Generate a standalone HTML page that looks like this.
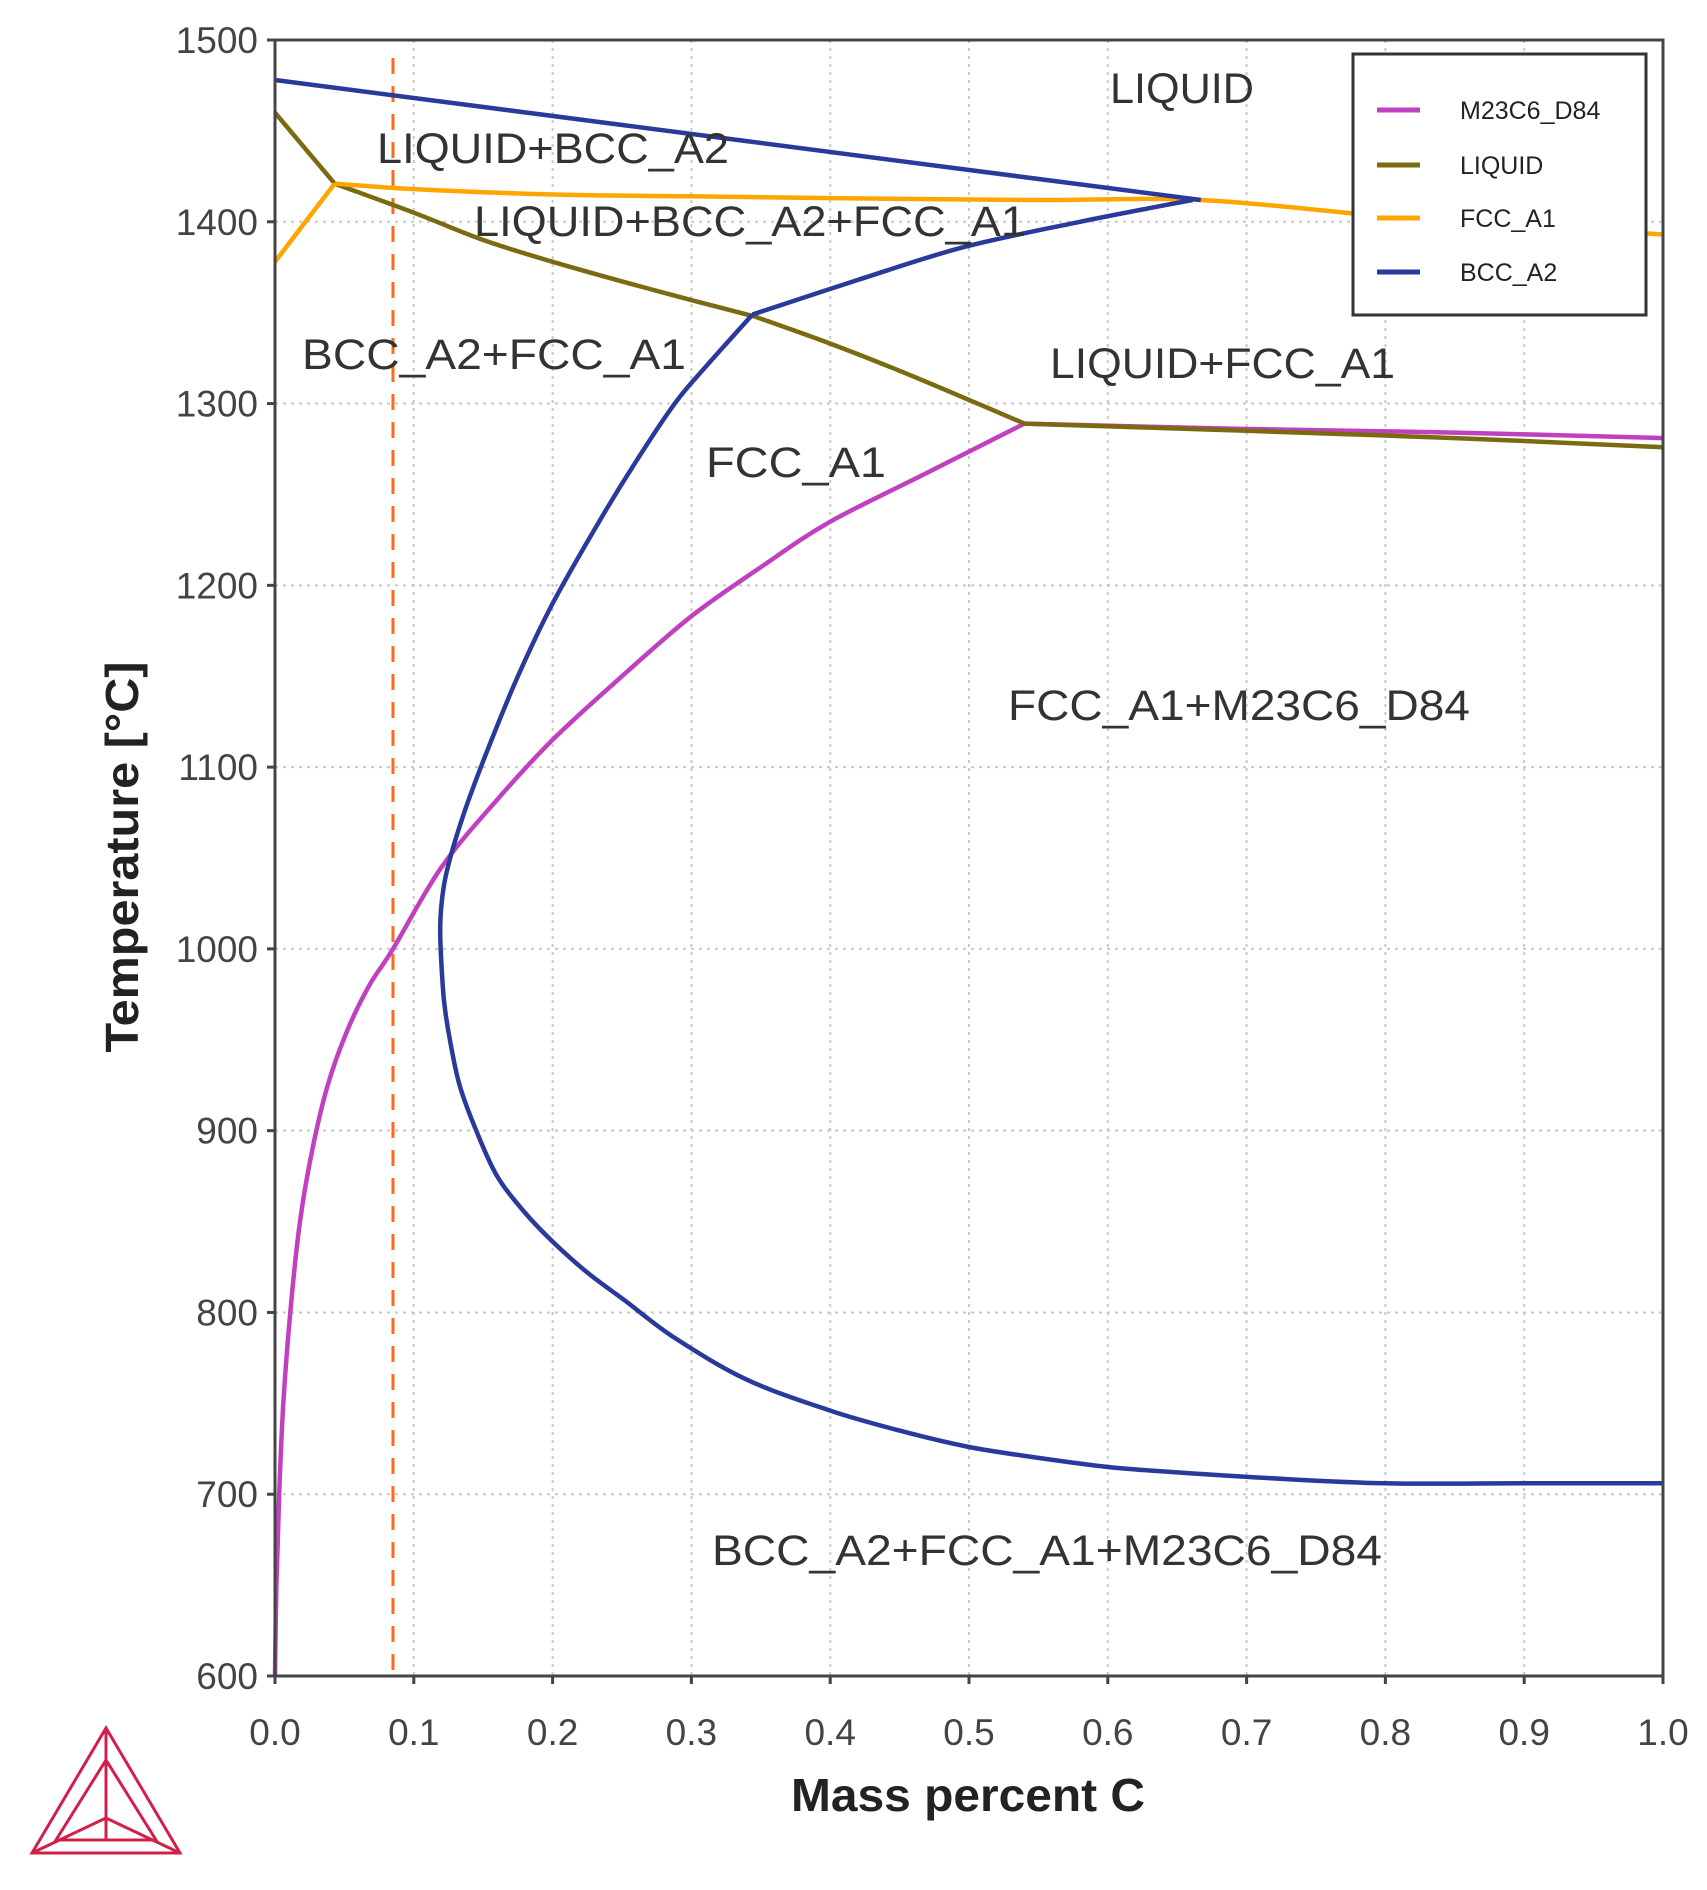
<!DOCTYPE html>
<html><head><meta charset="utf-8"><style>
html,body{margin:0;padding:0;background:#fff;}
svg{display:block;font-family:"Liberation Sans",Arial,sans-serif;}
</style></head><body>
<svg id="chart" width="1707" height="1890" viewBox="0 0 1707 1890" xmlns="http://www.w3.org/2000/svg">
<g id="grid"></g>
<g id="series"></g>
<g id="axes"></g>
<g font-size="43" fill="#333">
<text x="1110" y="103" textLength="144" lengthAdjust="spacingAndGlyphs">LIQUID</text>
<text x="377" y="163" textLength="352" lengthAdjust="spacingAndGlyphs">LIQUID+BCC_A2</text>
<text x="474" y="236" textLength="552" lengthAdjust="spacingAndGlyphs">LIQUID+BCC_A2+FCC_A1</text>
<text x="302" y="369" textLength="384" lengthAdjust="spacingAndGlyphs">BCC_A2+FCC_A1</text>
<text x="1050" y="378" textLength="345" lengthAdjust="spacingAndGlyphs">LIQUID+FCC_A1</text>
<text x="706" y="477" textLength="180" lengthAdjust="spacingAndGlyphs">FCC_A1</text>
<text x="1008" y="720" textLength="462" lengthAdjust="spacingAndGlyphs">FCC_A1+M23C6_D84</text>
<text x="712" y="1565" textLength="670" lengthAdjust="spacingAndGlyphs">BCC_A2+FCC_A1+M23C6_D84</text>
</g>
<g>
<rect x="1353" y="54" width="293" height="261" fill="#fff" stroke="#333" stroke-width="3"/>
<g font-size="25" fill="#222">
<line x1="1377" y1="110" x2="1420" y2="110" stroke="#c040c0" stroke-width="5"/>
<text x="1460" y="119">M23C6_D84</text>
<line x1="1377" y1="165" x2="1420" y2="165" stroke="#7a6a10" stroke-width="5"/>
<text x="1460" y="174">LIQUID</text>
<line x1="1377" y1="218" x2="1420" y2="218" stroke="#ffa500" stroke-width="5"/>
<text x="1460" y="227">FCC_A1</text>
<line x1="1377" y1="272" x2="1420" y2="272" stroke="#2a3a9a" stroke-width="5"/>
<text x="1460" y="281">BCC_A2</text>
</g></g>
<text x="968" y="1811" text-anchor="middle" font-size="46" font-weight="bold" fill="#222" textLength="354" lengthAdjust="spacingAndGlyphs">Mass percent C</text>
<text transform="translate(138,857) rotate(-90)" text-anchor="middle" font-size="46" font-weight="bold" fill="#222" textLength="391" lengthAdjust="spacingAndGlyphs">Temperature [°C]</text>
<g fill="none" stroke="#d0204a" stroke-width="3">
<polygon points="106,1728 32,1853 180,1853"/>
<polygon points="106,1760 56,1840 156,1840"/>
<line x1="106" y1="1728" x2="106" y2="1818"/>
<line x1="32" y1="1853" x2="106" y2="1818"/>
<line x1="180" y1="1853" x2="106" y2="1818"/>
<line x1="106" y1="1760" x2="106" y2="1840"/>
</g>
</svg>
<script>
const xTicks=[0,0.1,0.2,0.3,0.4,0.5,0.6,0.7,0.8,0.9,1.0];
const xTickLabels=["0.0","0.1","0.2","0.3","0.4","0.5","0.6","0.7","0.8","0.9","1.0"];
const yTicks=[600,700,800,900,1000,1100,1200,1300,1400,1500];
const yTickLabels=["600","700","800","900","1000","1100","1200","1300","1400","1500"];
const bccUpperX=[0,0.667];
const bccUpperT=[1478,1412];
const bccLowerX=[0.344,0.42,0.496,0.58,0.661];
const bccLowerT=[1349,1368,1386,1400,1412];
const bccLoopX=[0.344,0.31,0.288,0.26,0.235,0.2,0.175,0.155,0.14,0.13,0.123,0.12,0.119,0.12,0.122,0.126,0.133,0.145,0.16,0.18,0.2,0.225,0.253,0.288,0.34,0.4,0.45,0.5,0.55,0.6,0.65,0.713,0.8,0.9,1.0];
const bccLoopT=[1349,1320,1300,1268,1237,1190,1150,1113,1083,1060,1040,1025,1010,990,970,950,925,900,875,855,839,822,806,786,763,746,735,726,720,715,712,709,706,706,706];
const fccX1=[0,0.043];
const fccT1=[1378,1421];
const fccX2=[0.043,0.1,0.2,0.3,0.4,0.55,0.667,0.8,0.9,1.0];
const fccT2=[1421,1418,1415,1414,1413,1412,1412,1403,1398,1393];
const liqX1=[0,0.043];
const liqT1=[1460,1421];
const liqX2=[0.043,0.1,0.15,0.2,0.27,0.345];
const liqT2=[1421,1405,1390,1378,1363,1348];
const liqX3=[0.345,0.4,0.45,0.5,0.54];
const liqT3=[1348,1333,1318,1302,1289];
const liqX4=[0.54,0.7,0.85,1.0];
const liqT4=[1289,1285,1281,1276];
const m23X=[0,0.001,0.003,0.006,0.011,0.018,0.027,0.038,0.052,0.068,0.085,0.12,0.16,0.2,0.25,0.3,0.35,0.4,0.47,0.54];
const m23T=[600,650,700,750,800,850,890,925,955,980,1000,1045,1082,1115,1150,1183,1210,1235,1262,1289];
const m23X2=[0.54,0.7,0.85,1.0];
const m23T2=[1289,1286,1284,1281];
const dashedX=[0.085];

const X0=275,X1=1663,Y0=40,Y1=1676;
const sx=v=>X0+(X1-X0)*v;
const sy=t=>Y1-(Y1-Y0)*(t-600)/900;
const NS="http://www.w3.org/2000/svg";
const grid=document.getElementById('grid'),axes=document.getElementById('axes'),series=document.getElementById('series');
function mk(tag,attrs,parent){const e=document.createElementNS(NS,tag);for(const k in attrs)e.setAttribute(k,attrs[k]);parent.appendChild(e);return e;}
xTicks.forEach((v,i)=>{
  const x=sx(v);
  if(i>0&&i<xTicks.length-1){const g=mk('line',{x1:x,y1:Y0,x2:x,y2:Y1,stroke:'#c8c8c8','stroke-width':2,'stroke-dasharray':'3,5'},grid);
  
  }
  const tk=mk('line',{x1:x,y1:Y1,x2:x,y2:Y1+8,stroke:'#444','stroke-width':3},axes);
  
  
  const t=mk('text',{x:x,y:1745,'text-anchor':'middle','font-size':37,fill:'#444'},axes);
  t.textContent=xTickLabels[i];
  
  
});
yTicks.forEach((v,i)=>{
  const y=sy(v);
  if(i>0&&i<yTicks.length-1){const g=mk('line',{x1:X0,y1:y,x2:X1,y2:y,stroke:'#c8c8c8','stroke-width':2,'stroke-dasharray':'3,5'},grid);
  
  }
  const tk=mk('line',{x1:X0-8,y1:y,x2:X0,y2:y,stroke:'#444','stroke-width':3},axes);
  
  
  const t=mk('text',{x:258,y:y+13,'text-anchor':'end','font-size':37,fill:'#444'},axes);
  t.textContent=yTickLabels[i];
  
  
});
const frame=mk('rect',{x:X0,y:Y0,width:X1-X0,height:Y1-Y0,fill:'none',stroke:'#444','stroke-width':3},axes);


function line(xs,ts,color,name){
  const P=xs.map((v,i)=>[sx(v),sy(ts[i])]);
  let d='M'+P[0][0].toFixed(1)+','+P[0][1].toFixed(1);
  for(let i=0;i<P.length-1;i++){
    const p0=P[Math.max(0,i-1)],p1=P[i],p2=P[i+1],p3=P[Math.min(P.length-1,i+2)];
    const c1=[p1[0]+(p2[0]-p0[0])/6,p1[1]+(p2[1]-p0[1])/6];
    const c2=[p2[0]-(p3[0]-p1[0])/6,p2[1]-(p3[1]-p1[1])/6];
    d+=' C'+c1[0].toFixed(1)+','+c1[1].toFixed(1)+' '+c2[0].toFixed(1)+','+c2[1].toFixed(1)+' '+p2[0].toFixed(1)+','+p2[1].toFixed(1);
  }
  const p=mk('path',{d:d,fill:'none',stroke:color,'stroke-width':4.5,'stroke-linejoin':'round'},series);
  
  
}
const dl=mk('line',{x1:sx(dashedX[0]),y1:58,x2:sx(dashedX[0]),y2:Y1,stroke:'#ff6a1a','stroke-width':3,'stroke-dasharray':'16,12'},series);


line(m23X,m23T,'#c040c0','m23c6-line');
line(m23X2,m23T2,'#c040c0','m23c6-line-right');
line(liqX1,liqT1,'#7a6a10','liquid-line-left');
line(liqX2,liqT2,'#7a6a10','liquid-line');
line(liqX3,liqT3,'#7a6a10','liquid-line-mid');
line(liqX4,liqT4,'#7a6a10','liquid-line-right');
line(fccX1,fccT1,'#ffa500','fcc-line-left');
line(fccX2,fccT2,'#ffa500','fcc-line');
line(bccUpperX,bccUpperT,'#2a3a9a','bcc-liquidus-line');
line(bccLowerX,bccLowerT,'#2a3a9a','bcc-solidus-line');
line(bccLoopX,bccLoopT,'#2a3a9a','bcc-loop-line');
</script>
</body></html>
